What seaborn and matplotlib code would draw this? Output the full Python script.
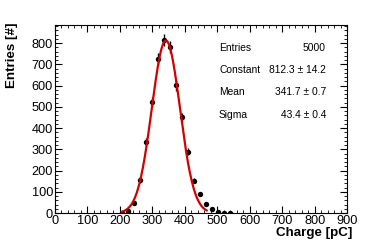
import numpy as np
import pandas as pd
import matplotlib
matplotlib.use("Agg")
import matplotlib.pyplot as plt
import seaborn as sns
from matplotlib.ticker import MultipleLocator

# histogram bin centres [pC] and counts
charge = [207, 226, 244, 263, 281, 300, 318, 337, 355, 373,
          391, 410, 428, 446, 465, 483, 501, 520, 538]
counts = [1, 9, 46, 156, 336, 524, 726, 815, 780, 601,
          450, 289, 153, 90, 44, 20, 7, 2, 1]

# gaussian fit shown in the stats box
fit_const = 812.3
fit_mean = 341.7
fit_sigma = 43.4
fit_range = (205, 468)

stats_names = ["Entries", "Constant", "Mean", "Sigma"]
stats_values = ["5000", "812.3 \u00b1 14.2", "341.7 \u00b1 0.7", "43.4 \u00b1 0.4"]

sns.set_theme(style="ticks")
plt.rcParams['font.family'] = ['Liberation Sans', 'DejaVu Sans']
plt.rcParams['text.color'] = 'black'
plt.rcParams['axes.labelcolor'] = 'black'

df = pd.DataFrame({"charge": charge, "counts": counts})
df["err"] = np.sqrt(df["counts"])

xf = np.linspace(fit_range[0], fit_range[1], 300)
fit = pd.DataFrame({"charge": xf,
                    "counts": fit_const * np.exp(-0.5 * ((xf - fit_mean) / fit_sigma) ** 2)})

fig = plt.figure(figsize=(3.9, 2.48), dpi=100)
ax = fig.add_axes([0.141, 0.141, 0.749, 0.758])

ax.errorbar(df["charge"], df["counts"], yerr=df["err"], fmt="none",
            ecolor="black", elinewidth=1.0, capsize=0, zorder=2)
sns.scatterplot(data=df, x="charge", y="counts", color="black", s=15,
                edgecolor="black", linewidth=0, ax=ax, zorder=3)
sns.lineplot(data=fit, x="charge", y="counts", color="#d40000", lw=1.6,
             ax=ax, zorder=4)

ax.set_xlim(0, 900)
ax.set_ylim(0, 885)
ax.xaxis.set_major_locator(MultipleLocator(100))
ax.xaxis.set_minor_locator(MultipleLocator(20))
ax.yaxis.set_major_locator(MultipleLocator(100))
ax.yaxis.set_minor_locator(MultipleLocator(20))
ax.tick_params(which="both", direction="in", top=True, right=True,
               colors="black", labelcolor="black", labelsize=9.2, pad=1.5)
ax.tick_params(which="major", length=5, width=0.8)
ax.tick_params(which="minor", length=2.5, width=0.6)
for sp in ax.spines.values():
    sp.set_visible(True)
    sp.set_color("black")
    sp.set_linewidth(0.8)

ax.set_xlabel("")
ax.set_ylabel("")
fig.text(0.903, 0.035, "Charge [pC]", ha="right", va="bottom",
         fontsize=9.6, fontweight="bold", color="black")
fig.text(0.015, 0.91, "Entries [#]", ha="left", va="top", rotation=90,
         fontsize=9.6, fontweight="bold", color="black")

for i, (name, val) in enumerate(zip(stats_names, stats_values)):
    yy = 1 - (48 + i * 22.2) / 248
    fig.text(219 / 390, yy, name, ha="left", va="center", fontsize=7.4, color="black")
    fig.text(326 / 390, yy, val, ha="right", va="center", fontsize=7.4, color="black")

fig.savefig("out.png", dpi=100)
